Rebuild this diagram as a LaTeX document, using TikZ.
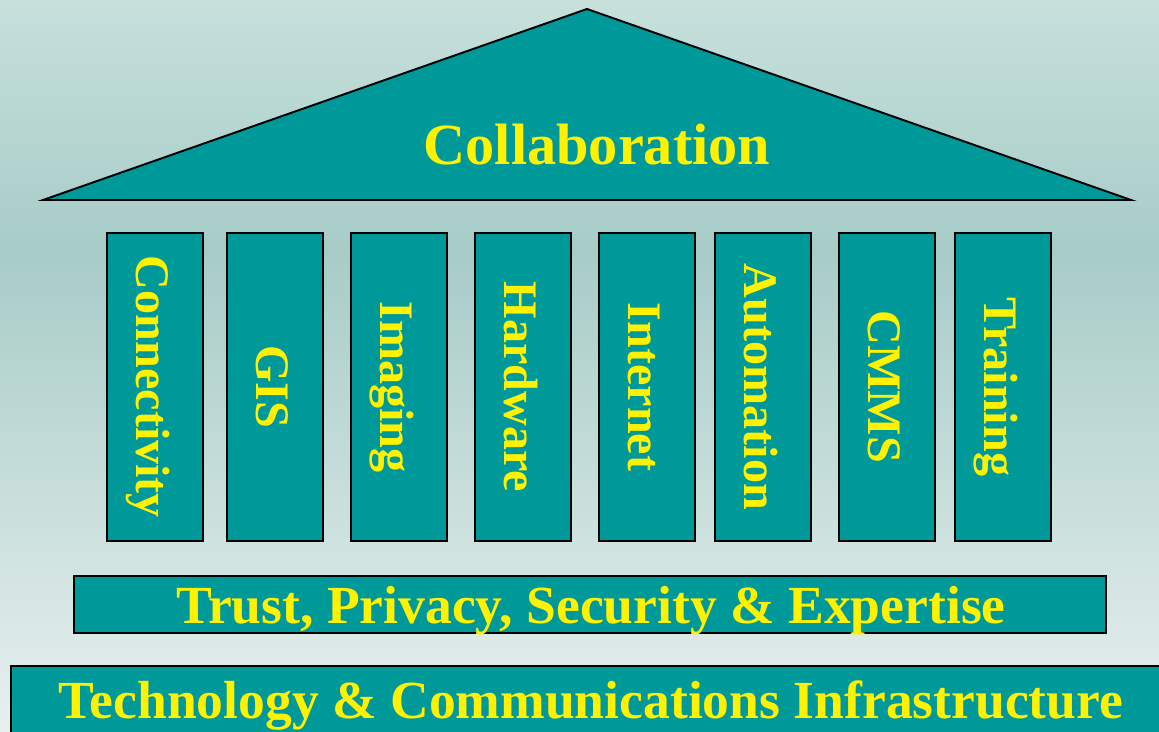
\documentclass[tikz,border=0pt]{standalone}
\usepackage{fontspec}
\setmainfont{Liberation Serif}
\usepackage{tikz}
\definecolor{teal1}{HTML}{009999}
\definecolor{sky1}{HTML}{C7E0DC}
\definecolor{sky2}{HTML}{A7CCC8}
\definecolor{sky3}{HTML}{E8F0EE}

\begin{document}
\begin{tikzpicture}[x=0.02cm,y=-0.02cm,
	pillar/.style ={rectangle, draw=black, line width=1.1pt, fill=teal1, minimum width=1.92cm, minimum height=6.16cm, inner sep=0pt},
	bar/.style ={rectangle, draw=black, line width=1.1pt, fill=teal1, inner sep=0pt},
	word/.style ={text=yellow, font=\bfseries\fontsize{30.5}{32}\selectfont, inner sep=0pt, anchor=base},
	upword/.style ={word, font=\bfseries\fontsize{27.4}{30}\selectfont, rotate=-90}]
		\useasboundingbox (0,0) rectangle (1159,732);
		\shade[top color=sky1, bottom color=sky2] (0,0) rectangle (1159,250);
		\shade[top color=sky2, bottom color=sky3] (0,250) rectangle (1159,732);
		% roof
		\coordinate (r1) at (43,200);
		\coordinate (r2) at (587,9);
		\coordinate (r3) at (1131,200);
		\draw[line width=1.1pt, fill=teal1] (r1)--(r2)--(r3)--cycle;
		\node[word, font=\bfseries\fontsize{33.2}{36}\selectfont] (roof) at (597,165) {Collaboration};
		% pillars
		\node[pillar] (p1) at (155,387) {};
		\node[pillar] (p2) at (275,387) {};
		\node[pillar] (p3) at (399,387) {};
		\node[pillar] (p4) at (523,387) {};
		\node[pillar] (p5) at (647,387) {};
		\node[pillar] (p6) at (763,387) {};
		\node[pillar] (p7) at (887,387) {};
		\node[pillar] (p8) at (1003,387) {};
		\node[upword] (t1) at (136.5,387) {Connectivity};
		\node[upword] (t2) at (256.5,387) {GIS};
		\node[upword] (t3) at (380.5,387) {Imaging};
		\node[upword] (t4) at (504.5,387) {Hardware};
		\node[upword] (t5) at (628.5,387) {Internet};
		\node[upword] (t6) at (744.5,387) {Automation};
		\node[upword] (t7) at (868.5,387) {CMMS};
		\node[upword] (t8) at (984.5,387) {Training};
		% base
		\node[bar, minimum width=20.64cm, minimum height=1.14cm] (trust) at (590,604.5) {};
		\node[word] (trusttext) at (591,623) {Trust, Privacy, Security \& Expertise};
		\node[bar, minimum width=23.4cm, minimum height=1.8cm, anchor=north west] (infra) at (10,665) {};
		\node[word] (infratext) at (591,718) {Technology \& Communications Infrastructure};
	\end{tikzpicture}
\end{document}
